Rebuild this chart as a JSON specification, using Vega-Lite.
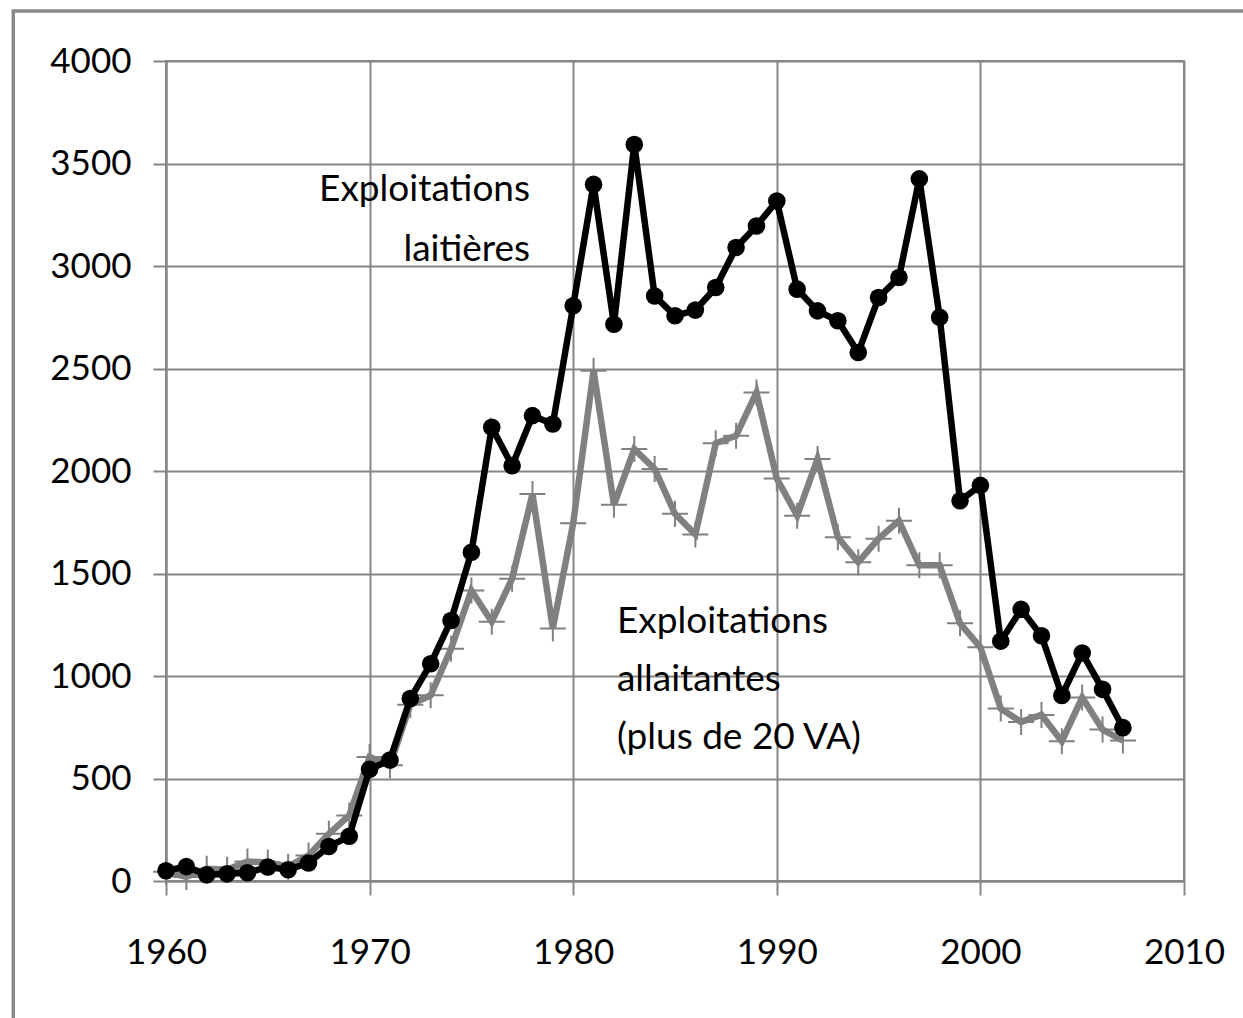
{
  "$schema": "https://vega.github.io/schema/vega-lite/v6.json",
  "width": 1018,
  "height": 820,
  "autosize": "none",
  "padding": {"left": 166, "top": 61, "right": 59, "bottom": 137},
  "background": "white",
  "config": {
    "view": {"stroke": "#868686", "strokeWidth": 2},
    "font": "Lato"
  },
  "data": {
    "values": [
      {"year": 1960, "laitieres": 50, "allaitantes": 45},
      {"year": 1961, "laitieres": 70, "allaitantes": 20},
      {"year": 1962, "laitieres": 30, "allaitantes": 60},
      {"year": 1963, "laitieres": 35, "allaitantes": 55},
      {"year": 1964, "laitieres": 40, "allaitantes": 95},
      {"year": 1965, "laitieres": 68, "allaitantes": 90},
      {"year": 1966, "laitieres": 55, "allaitantes": 70},
      {"year": 1967, "laitieres": 88, "allaitantes": 125},
      {"year": 1968, "laitieres": 168, "allaitantes": 230},
      {"year": 1969, "laitieres": 218, "allaitantes": 320},
      {"year": 1970, "laitieres": 545, "allaitantes": 605},
      {"year": 1971, "laitieres": 590, "allaitantes": 565},
      {"year": 1972, "laitieres": 890, "allaitantes": 860},
      {"year": 1973, "laitieres": 1060, "allaitantes": 906},
      {"year": 1974, "laitieres": 1271, "allaitantes": 1133},
      {"year": 1975, "laitieres": 1604, "allaitantes": 1417},
      {"year": 1976, "laitieres": 2213, "allaitantes": 1265},
      {"year": 1977, "laitieres": 2026, "allaitantes": 1475},
      {"year": 1978, "laitieres": 2270, "allaitantes": 1888},
      {"year": 1979, "laitieres": 2229, "allaitantes": 1232},
      {"year": 1980, "laitieres": 2806, "allaitantes": 1745},
      {"year": 1981, "laitieres": 3398, "allaitantes": 2489},
      {"year": 1982, "laitieres": 2716, "allaitantes": 1835},
      {"year": 1983, "laitieres": 3593, "allaitantes": 2107},
      {"year": 1984, "laitieres": 2854, "allaitantes": 2010},
      {"year": 1985, "laitieres": 2757, "allaitantes": 1791},
      {"year": 1986, "laitieres": 2785, "allaitantes": 1690},
      {"year": 1987, "laitieres": 2895, "allaitantes": 2135},
      {"year": 1988, "laitieres": 3090, "allaitantes": 2172},
      {"year": 1989, "laitieres": 3195, "allaitantes": 2383},
      {"year": 1990, "laitieres": 3317, "allaitantes": 1963},
      {"year": 1991, "laitieres": 2887, "allaitantes": 1782},
      {"year": 1992, "laitieres": 2781, "allaitantes": 2059},
      {"year": 1993, "laitieres": 2733, "allaitantes": 1677},
      {"year": 1994, "laitieres": 2578, "allaitantes": 1555},
      {"year": 1995, "laitieres": 2846, "allaitantes": 1670},
      {"year": 1996, "laitieres": 2944, "allaitantes": 1757},
      {"year": 1997, "laitieres": 3425, "allaitantes": 1540},
      {"year": 1998, "laitieres": 2750, "allaitantes": 1540},
      {"year": 1999, "laitieres": 1855, "allaitantes": 1257},
      {"year": 2000, "laitieres": 1930, "allaitantes": 1140},
      {"year": 2001, "laitieres": 1170, "allaitantes": 841},
      {"year": 2002, "laitieres": 1325, "allaitantes": 776},
      {"year": 2003, "laitieres": 1196, "allaitantes": 810},
      {"year": 2004, "laitieres": 905, "allaitantes": 682},
      {"year": 2005, "laitieres": 1112, "allaitantes": 895},
      {"year": 2006, "laitieres": 935, "allaitantes": 739},
      {"year": 2007, "laitieres": 748, "allaitantes": 685}
    ]
  },
  "layer": [
    {
      "mark": {"type": "line", "color": "#808080", "strokeWidth": 6.5},
      "encoding": {
        "x": {
          "field": "year", "type": "quantitative",
          "scale": {"domain": [1960, 2010], "nice": false, "zero": false},
          "axis": {
            "values": [1960, 1970, 1980, 1990, 2000, 2010], "format": "d", "title": null,
            "grid": true, "gridColor": "#868686", "gridWidth": 2,
            "domainColor": "#868686", "domainWidth": 2,
            "tickColor": "#868686", "tickWidth": 2, "tickSize": 14,
            "labelFont": "Lato", "labelFontSize": 35, "labelColor": "#000000",
            "labelPadding": 40, "labelFlush": false, "labelOverlap": false
          }
        },
        "y": {
          "field": "allaitantes", "type": "quantitative",
          "scale": {"domain": [0, 4000], "nice": false},
          "axis": {
            "values": [0, 500, 1000, 1500, 2000, 2500, 3000, 3500, 4000], "format": "d", "title": null,
            "grid": true, "gridColor": "#868686", "gridWidth": 2,
            "domainColor": "#868686", "domainWidth": 2,
            "tickColor": "#868686", "tickWidth": 2, "tickSize": 13,
            "labelFont": "Lato", "labelFontSize": 35, "labelColor": "#000000",
            "labelPadding": 22, "labelOverlap": false
          }
        }
      }
    },
    {
      "mark": {"type": "point", "shape": "M-1,0L1,0M0,-1L0,1", "filled": false, "stroke": "#808080", "strokeWidth": 2, "size": 676, "opacity": 1},
      "encoding": {
        "x": {"field": "year", "type": "quantitative"},
        "y": {"field": "allaitantes", "type": "quantitative"}
      }
    },
    {
      "mark": {"type": "line", "color": "#000000", "strokeWidth": 6.5},
      "encoding": {
        "x": {"field": "year", "type": "quantitative"},
        "y": {"field": "laitieres", "type": "quantitative"}
      }
    },
    {
      "mark": {"type": "point", "shape": "circle", "filled": true, "color": "#000000", "size": 310, "opacity": 1},
      "encoding": {
        "x": {"field": "year", "type": "quantitative"},
        "y": {"field": "laitieres", "type": "quantitative"}
      }
    },
    {
      "data": {"values": [{}]},
      "mark": {"type": "rect", "fill": null, "stroke": "#8a8a8a", "strokeWidth": 3.5},
      "encoding": {
        "x": {"datum": 1952.5, "type": "quantitative"},
        "x2": {"datum": 2030},
        "y": {"datum": 4244, "type": "quantitative"},
        "y2": {"datum": -1000}
      }
    },
    {
      "data": {"values": [{}]},
      "mark": {"type": "text", "align": "right", "baseline": "alphabetic", "fontSize": 37, "lineHeight": 60, "font": "Lato", "color": "#000000", "text": ["Exploitations", "laitières"]},
      "encoding": {
        "x": {"datum": 1977.88, "type": "quantitative"},
        "y": {"datum": 3317, "type": "quantitative"}
      }
    },
    {
      "data": {"values": [{}]},
      "mark": {"type": "text", "align": "left", "baseline": "alphabetic", "fontSize": 37, "lineHeight": 58, "font": "Lato", "color": "#000000", "text": ["Exploitations", "allaitantes", "(plus de 20 VA)"]},
      "encoding": {
        "x": {"datum": 1982.15, "type": "quantitative"},
        "y": {"datum": 1208, "type": "quantitative"}
      }
    }
  ]
}
